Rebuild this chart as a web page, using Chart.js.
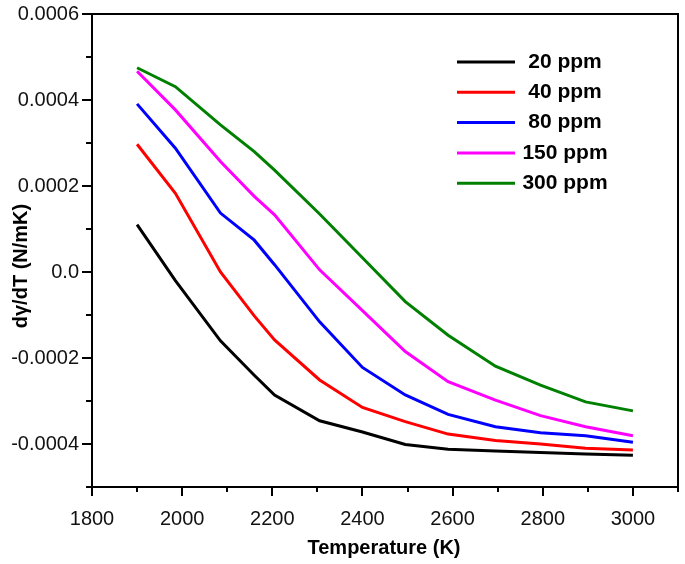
<!DOCTYPE html>
<html>
<head>
<meta charset="utf-8">
<script src="https://cdn.jsdelivr.net/npm/chart.js@4.4.0/dist/chart.umd.min.js"></script>
<style>
  html, body { margin: 0; padding: 0; background: #fff; }
  #wrap { width: 685px; height: 564px; }
</style>
</head>
<body>
<div id="wrap"><canvas id="dgdtChart" width="685" height="564"></canvas></div>
<script>
// Temperature (K) of each computed point
const temperatures = [1900, 1985, 2085, 2160, 2205, 2305, 2400, 2495, 2590, 2695, 2795, 2895, 3000];

// dγ/dT (N/mK) for each sulfur concentration
const ppm20  = [0.000110, -0.000020, -0.000160, -0.000240, -0.000286, -0.000346, -0.000372, -0.000401, -0.000412, -0.000416, -0.000420, -0.000423, -0.000426];
const ppm40  = [0.000297, 0.000183, 0.000000, -0.000102, -0.000158, -0.000251, -0.000315, -0.000348, -0.000377, -0.000392, -0.000400, -0.000410, -0.000414];
const ppm80  = [0.000391, 0.000288, 0.000137, 0.000074, 0.000017, -0.000116, -0.000222, -0.000286, -0.000331, -0.000360, -0.000374, -0.000381, -0.000396];
const ppm150 = [0.000467, 0.000377, 0.000257, 0.000176, 0.000133, 0.000005, -0.000090, -0.000185, -0.000255, -0.000298, -0.000334, -0.000360, -0.000381];
const ppm300 = [0.000475, 0.000431, 0.000342, 0.000280, 0.000237, 0.000135, 0.000033, -0.000069, -0.000147, -0.000219, -0.000263, -0.000302, -0.000323];

const seriesLabels = ['20 ppm', '40 ppm', '80 ppm', '150 ppm', '300 ppm'];
const seriesColors = ['#000000', '#ff0000', '#0000ff', '#ff00ff', '#008000'];
const seriesValues = [ppm20, ppm40, ppm80, ppm150, ppm300];

const xMin = 1800, xMax = 3100;
const yMin = -0.0005, yMax = 0.0006;

const tickFont = { family: 'Liberation Sans, Arial, sans-serif', size: 20 };

// box around the plot, outward major/minor ticks, axis titles, legend
const framePlugin = {
    id: 'frame',
    afterDraw(chart) {
        const ctx = chart.ctx;
        const a = chart.chartArea;
        const xs = chart.scales.x;
        const ys = chart.scales.y;
        ctx.save();
        ctx.strokeStyle = '#000';
        ctx.lineWidth = 2;
        ctx.strokeRect(a.left, a.top, a.right - a.left, a.bottom - a.top);

        ctx.beginPath();
        xs.ticks.forEach(t => {
            const px = Math.round(xs.getPixelForValue(t.value));
            const major = Math.round(t.value) % 200 === 0;
            ctx.moveTo(px, a.bottom);
            ctx.lineTo(px, a.bottom + (major ? 9 : 5));
        });
        ys.ticks.forEach(t => {
            const py = Math.round(ys.getPixelForValue(t.value));
            const major = Math.round(t.value * 10000) % 2 === 0;
            ctx.moveTo(a.left, py);
            ctx.lineTo(a.left - (major ? 10 : 6), py);
        });
        ctx.stroke();

        // axis titles
        ctx.fillStyle = '#000';
        ctx.font = 'bold 20px Liberation Sans, Arial, sans-serif';
        ctx.textAlign = 'center';
        ctx.textBaseline = 'middle';
        ctx.fillText('Temperature (K)', 384, 548);
        ctx.save();
        ctx.translate(21, 266);
        ctx.rotate(-Math.PI / 2);
        ctx.fillText('d\u03b3/dT (N/mK)', 0, 0);
        ctx.restore();

        // legend
        ctx.font = 'bold 21px Liberation Sans, Arial, sans-serif';
        chart.data.datasets.forEach((ds, i) => {
            const y = 62 + i * 30.3;
            ctx.strokeStyle = ds.borderColor;
            ctx.lineWidth = 3;
            ctx.beginPath();
            ctx.moveTo(457, y);
            ctx.lineTo(515, y);
            ctx.stroke();
            ctx.fillStyle = '#000';
            ctx.fillText(ds.label, 565, y);
        });
        ctx.restore();
    }
};

new Chart(document.getElementById('dgdtChart').getContext('2d'), {
    type: 'line',
    data: {
        datasets: seriesLabels.map((label, i) => ({
            label: label,
            data: temperatures.map((t, j) => ({ x: t, y: seriesValues[i][j] })),
            borderColor: seriesColors[i],
            backgroundColor: seriesColors[i],
            borderWidth: 3,
            pointRadius: 0,
            tension: 0,
            fill: false
        }))
    },
    options: {
        responsive: false,
        animation: false,
        layout: {
            padding: { top: 14, right: 7, left: 0, bottom: 0 }
        },
        plugins: {
            legend: { display: false },
            tooltip: { enabled: false }
        },
        scales: {
            x: {
                type: 'linear',
                min: xMin,
                max: xMax,
                grid: { display: false, drawTicks: false },
                border: { display: false },
                ticks: {
                    stepSize: 100,
                    autoSkip: false,
                    maxRotation: 0,
                    padding: 20,
                    color: '#111',
                    font: tickFont,
                    callback: v => (Math.round(v) % 200 === 0 ? String(Math.round(v)) : '')
                },
                afterFit: scale => {
                    scale.height = 77;
                    scale.paddingLeft = 0;
                    scale.paddingRight = 0;
                }
            },
            y: {
                type: 'linear',
                min: yMin,
                max: yMax,
                grid: { display: false, drawTicks: false },
                border: { display: false },
                ticks: {
                    stepSize: 0.0001,
                    autoSkip: false,
                    padding: 13,
                    color: '#111',
                    font: tickFont,
                    callback: v => {
                        const n = Math.round(v * 10000);
                        if (n % 2 !== 0) return '';
                        return n === 0 ? '0.0' : (n / 10000).toFixed(4);
                    }
                },
                afterFit: scale => {
                    scale.width = 92;
                    scale.paddingTop = 0;
                    scale.paddingBottom = 0;
                }
            }
        }
    },
    plugins: [framePlugin]
});
</script>
</body>
</html>
